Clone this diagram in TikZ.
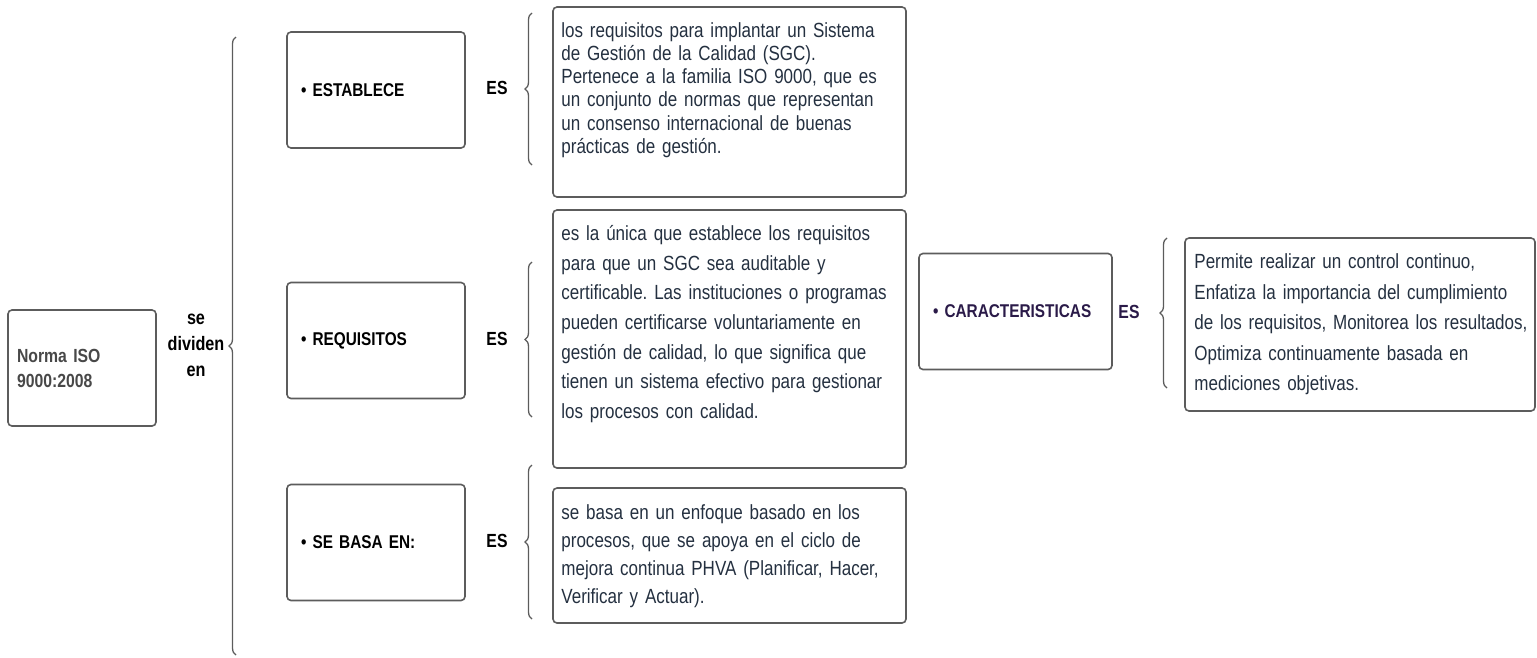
\documentclass[tikz,border=0pt]{standalone}
\usepackage{fontspec}
\setmainfont{Liberation Sans}[FakeStretch=0.83]
\usetikzlibrary{decorations.pathreplacing}
\definecolor{cline}{RGB}{92,92,92}
\definecolor{ctext}{RGB}{36,48,64}
\definecolor{cnorma}{RGB}{72,72,72}
\definecolor{cpurple}{RGB}{42,26,72}
\frenchspacing

\begin{document}
\begin{tikzpicture}[x=1pt, y=-1pt,
    concept/.style={draw=cline, rounded corners=4pt, line width=1.6pt,
                    minimum width=178pt, minimum height=116pt, text width=150pt,
                    inner xsep=14pt, align=left, font=\fontsize{18.5}{22}\selectfont\bfseries},
    descbox/.style={draw=cline, rounded corners=4pt, line width=1.6pt,
                    minimum width=353pt},
    desctext/.style={anchor=west, inner sep=0pt, text width=340pt, align=left,
                     text=ctext, font=\fontsize{20.5}{#1}\selectfont},
    eslabel/.style={font=\fontsize{19}{22}\selectfont\bfseries},
    brace/.style={decorate, decoration={brace, amplitude=7pt}, draw=cline, line width=1.3pt}
  ]
  \useasboundingbox (0,0) rectangle (1537,657);

  % root
  \node[draw=cline, rounded corners=4pt, line width=1.6pt, minimum width=148pt,
        minimum height=116pt, text width=130pt, inner xsep=9pt, align=left,
        text=cnorma, font=\fontsize{19}{25}\selectfont\bfseries] (norma) at (82,368)
        {Norma ISO\\9000:2008};
  \node[align=center, font=\fontsize{19.5}{26}\selectfont\bfseries] (dividen) at (196,345)
        {se\\dividen\\en};
  \draw[brace] (236,655) -- (236,37);

  % left column
  \node[concept] (est) at (376,90) {\textbullet\ ESTABLECE};
  \node[concept] (req) at (376,340.5) {\textbullet\ REQUISITOS};
  \node[concept] (base) at (376,542.5) {\textbullet\ SE BASA EN:};

  \node[eslabel] (es1) at (497,88) {ES};
  \node[eslabel] (es2) at (497,339) {ES};
  \node[eslabel] (es3) at (497,541) {ES};

  \draw[brace] (532,165) -- (532,13);
  \draw[brace] (532,417) -- (532,262);
  \draw[brace] (532,619) -- (532,465);

  % descriptions
  \node[descbox, minimum height=190pt] (d1) at (729.5,102) {};
  \node[desctext=23.3pt] (d1txt) at ([xshift=9pt, yshift=12pt]d1.west)
    {los requisitos para implantar un Sistema\\
     de Gestión de la Calidad (SGC).\\
     Pertenece a la familia ISO 9000, que es\\
     un conjunto de normas que representan\\
     un consenso internacional de buenas\\
     prácticas de gestión.};

  \node[descbox, minimum height=258pt] (d2) at (729.5,339) {};
  \node[desctext=29.7pt] (d2txt) at ([xshift=9pt, yshift=15pt]d2.west)
    {es la única que establece los requisitos\\
     para que un SGC sea auditable y\\
     certificable. Las instituciones o programas\\
     pueden certificarse voluntariamente en\\
     gestión de calidad, lo que significa que\\
     tienen un sistema efectivo para gestionar\\
     los procesos con calidad.};

  \node[descbox, minimum height=135pt] (d3) at (729.5,555.5) {};
  \node[desctext=28pt] (d3txt) at ([xshift=9pt, yshift=-1pt]d3.west)
    {se basa en un enfoque basado en los\\
     procesos, que se apoya en el ciclo de\\
     mejora continua PHVA (Planificar, Hacer,\\
     Verificar y Actuar).};

  % right part
  \node[concept, minimum width=193pt, text width=165pt, text=cpurple] (car) at (1015.5,311.5)
    {\textbullet\ CARACTERISTICAS};
  \node[eslabel, text=cpurple] (es4) at (1129,312) {ES};
  \draw[brace] (1167,388) -- (1167,238);

  \node[descbox, minimum width=350pt, minimum height=173pt] (d4) at (1360,324.5) {};
  \node[desctext=30.5pt] (d4txt) at ([xshift=10pt]d4.west)
    {Permite realizar un control continuo,\\
     Enfatiza la importancia del cumplimiento\\
     de los requisitos, Monitorea los resultados,\\
     Optimiza continuamente basada en\\
     mediciones objetivas.};
\end{tikzpicture}
\end{document}
